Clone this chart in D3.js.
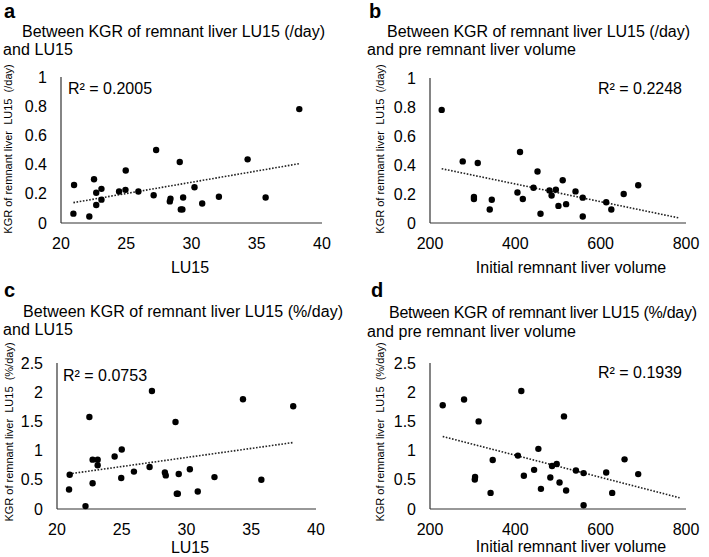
<!DOCTYPE html>
<html><head><meta charset="utf-8">
<script src="https://cdn.jsdelivr.net/npm/d3@7"></script>
<style>
body{margin:0;background:#fff;}
text{font-family:"Liberation Sans",Arial,sans-serif;fill:#000;}
</style></head>
<body>
<svg id="c" width="709" height="557"></svg>
<script>
// ---- data ----
const lu15 = [21.0,20.95,22.17,22.53,22.7,22.7,23.1,23.1,24.45,24.94,24.96,25.93,27.29,27.1,28.34,28.39,29.1,29.18,29.3,29.36,30.23,30.82,32.1,34.3,35.68,38.26];
const kgrDayA = [0.26,0.064,0.045,0.30,0.207,0.123,0.234,0.16,0.216,0.227,0.36,0.216,0.50,0.19,0.148,0.166,0.418,0.093,0.093,0.175,0.245,0.134,0.18,0.436,0.175,0.78];
const lu15C = [20.98,20.93,22.2,22.5,22.75,22.75,23.14,23.14,24.45,24.96,25.0,25.94,27.15,28.33,28.4,29.15,29.25,29.33,29.4,30.26,30.87,32.16,35.78,27.33,34.36,38.24];
const kgrPctC = [0.586,0.333,0.05,1.575,0.845,0.44,0.845,0.75,0.90,0.53,1.02,0.64,0.72,0.626,0.575,1.49,0.26,0.26,0.60,0.68,0.30,0.546,0.50,2.02,1.88,1.76];
const volB = [276.7,311.9,303,303,344.8,340,411,405,417.5,442.6,452,459,480,485,495,501,511,519,541,558,558,613,625,654,688,227.4];
const kgrDayB = [0.425,0.414,0.166,0.18,0.16,0.093,0.49,0.21,0.166,0.243,0.355,0.064,0.225,0.19,0.23,0.118,0.295,0.13,0.218,0.175,0.045,0.143,0.093,0.2,0.26,0.78];
const volD = [314,305,305.6,347,342,406,420,444,454,460,482,486,497,503.6,514,519,542,560,560,613,627,656,688,229.8,279.8,414];
const kgrPctD = [1.50,0.506,0.55,0.84,0.276,0.914,0.57,0.67,1.03,0.345,0.54,0.736,0.77,0.454,1.586,0.316,0.66,0.615,0.063,0.626,0.276,0.85,0.598,1.776,1.874,2.02];
const ticksDay = [0,0.2,0.4,0.6,0.8,1];
const ticksPct = [0,0.5,1,1.5,2,2.5];
const ticksLU = [20,25,30,35,40];
const ticksVol = [200,400,600,800];
const r2Labels = ["R² = 0.2005","R² = 0.2248","R² = 0.0753","R² = 0.1939"];
const panelLetters = ["a","b","c","d"];
const titles1 = ["Between KGR of remnant liver LU15 (/day)","Between KGR of remnant liver LU15 (/day)","Between KGR of remnant liver LU15 (%/day)","Between KGR of remnant liver LU15 (%/day)"];
const titles2 = ["and LU15","and pre remnant liver volume","and LU15","and pre remnant liver volume"];
const yTitles = ["KGR of remnant liver  LU15  (/day)","KGR of remnant liver  LU15  (/day)","KGR of remnant liver  LU15  (%/day)","KGR of remnant liver  LU15  (%/day)"];
const xTitles = ["LU15","Initial remnant liver volume","LU15","Initial remnant liver volume"];

const svg = d3.select("#c");

const panels = [
 {x:lu15, y:kgrDayA, xd:[20,40], yd:[0,1], xt:ticksLU, yt:ticksDay, L:61, R:322, T:77, B:223, extend:null,
  letter:[4,18], t1:[22,37,303], t2:[3,55,70], r2:[68,94,"start"], ytl:[12,149], xtl:[190,273]},
 {x:volB, y:kgrDayB, xd:[200,800], yd:[0,1], xt:ticksVol, yt:ticksDay, L:430, R:686, T:78, B:223, extend:785,
  letter:[369,18], t1:[387,37,303], t2:[367,55,209], r2:[682,94,"end"], ytl:[384,149], xtl:[571,273]},
 {x:lu15C, y:kgrPctC, xd:[20,40], yd:[0,2.5], xt:ticksLU, yt:ticksPct, L:57, R:316, T:363, B:509, extend:null,
  letter:[4,297], t1:[23,317,320], t2:[3,335,70], r2:[63,381,"start"], ytl:[13,432], xtl:[190,553]},
 {x:volD, y:kgrPctD, xd:[200,800], yd:[0,2.5], xt:ticksVol, yt:ticksPct, L:430, R:686, T:363, B:509, extend:785,
  letter:[371,297], t1:[389,318,308], t2:[367,337,209], r2:[682,378,"end"], ytl:[384,432], xtl:[571,552]}
];

function linreg(xs, ys){
  const n = xs.length, mx = d3.mean(xs), my = d3.mean(ys);
  let sxy=0, sxx=0;
  for(let i=0;i<n;i++){ sxy += (xs[i]-mx)*(ys[i]-my); sxx += (xs[i]-mx)**2; }
  const b = sxy/sxx; return {a: my - b*mx, b};
}

panels.forEach((p,i)=>{
  const g = svg.append("g");
  const xs = d3.scaleLinear().domain(p.xd).range([p.L,p.R]);
  const ys = d3.scaleLinear().domain(p.yd).range([p.B,p.T]);

  g.append("text").attr("x",p.letter[0]).attr("y",p.letter[1]).attr("font-size",20).attr("font-weight","bold").text(panelLetters[i]);
  g.append("text").attr("x",p.t1[0]).attr("y",p.t1[1]).attr("font-size",16)
    .attr("textLength",p.t1[2]).attr("lengthAdjust","spacing").text(titles1[i]);
  g.append("text").attr("x",p.t2[0]).attr("y",p.t2[1]).attr("font-size",16)
    .attr("textLength",p.t2[2]).attr("lengthAdjust","spacing").text(titles2[i]);

  // axes lines
  g.append("line").attr("x1",p.L).attr("x2",p.L).attr("y1",ys(p.yd[1])).attr("y2",p.B).attr("stroke","#333").attr("stroke-width",1.2);
  g.append("line").attr("x1",p.L).attr("x2",p.R).attr("y1",p.B).attr("y2",p.B).attr("stroke","#333").attr("stroke-width",1.2);

  g.selectAll(".yt").data(p.yt).enter().append("text")
    .attr("x",p.L-14).attr("y",d=>ys(d)+5.5).attr("text-anchor","end").attr("font-size",16).text(d=>d);
  g.selectAll(".xt").data(p.xt).enter().append("text")
    .attr("x",d=>xs(d)).attr("y",p.B+26).attr("text-anchor","middle").attr("font-size",16).text(d=>d);

  g.append("text").attr("transform",`translate(${p.ytl[0]},${p.ytl[1]}) rotate(-90)`)
    .attr("text-anchor","middle").attr("font-size",11).style("white-space","pre").text(yTitles[i]);
  g.append("text").attr("x",p.xtl[0]).attr("y",p.xtl[1]).attr("text-anchor","middle").attr("font-size",16).text(xTitles[i]);

  // trend line
  const lr = linreg(p.x,p.y);
  const x0 = d3.min(p.x), x1 = p.extend || d3.max(p.x);
  g.append("line").attr("x1",xs(x0)).attr("x2",xs(x1))
    .attr("y1",ys(lr.a+lr.b*x0)).attr("y2",ys(lr.a+lr.b*x1))
    .attr("stroke","#222").attr("stroke-width",1.6).attr("stroke-dasharray","1.6,1.6");

  g.selectAll("circle").data(p.x.map((v,k)=>[v,p.y[k]])).enter().append("circle")
    .attr("cx",d=>xs(d[0])).attr("cy",d=>ys(d[1])).attr("r",3.2).attr("fill","#000");

  g.append("text").attr("x",p.r2[0]).attr("y",p.r2[1]).attr("text-anchor",p.r2[2]).attr("font-size",16).text(r2Labels[i]);
});
</script>
</body></html>
